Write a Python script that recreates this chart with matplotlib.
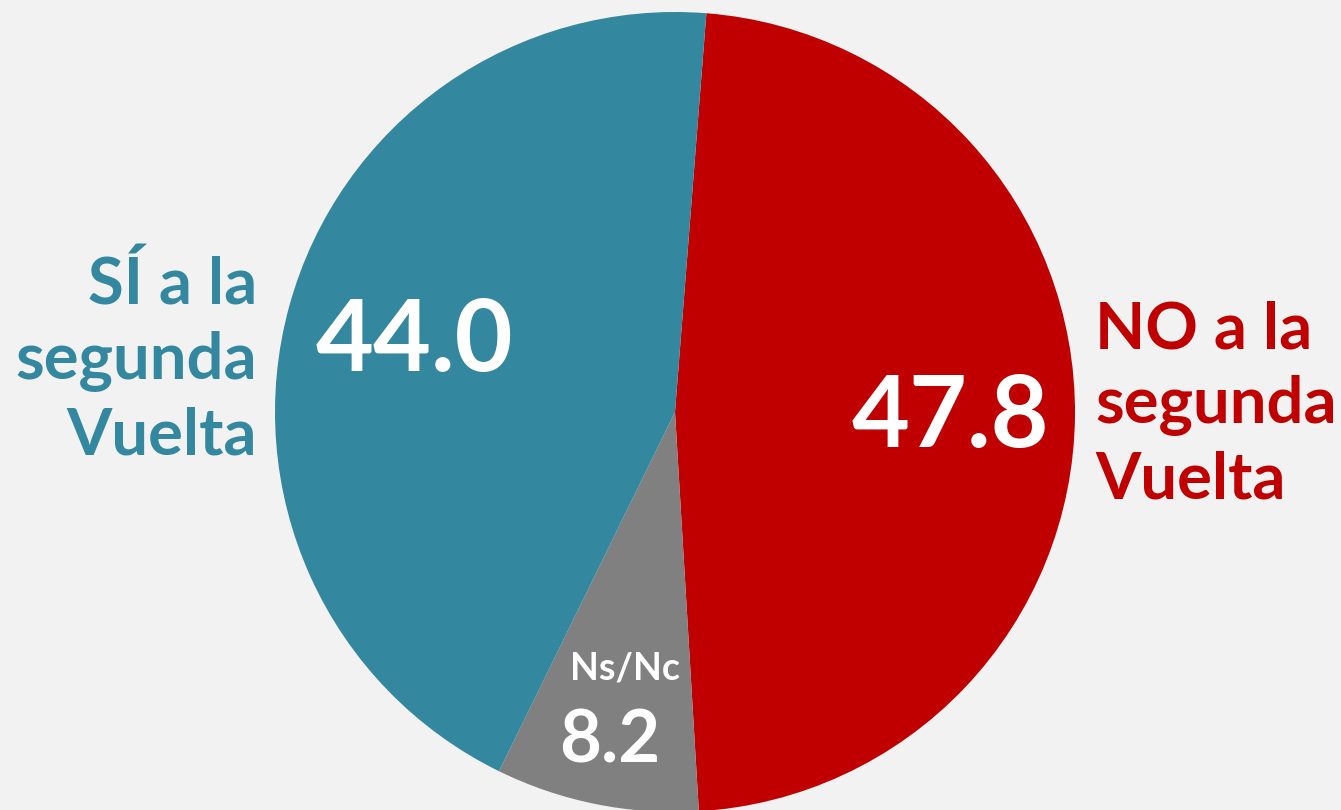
import matplotlib.pyplot as plt

# Datos
etiquetas = ['NO a la\nsegunda\nVuelta', 'Ns/Nc', 'SÍ a la\nsegunda\nVuelta']
valores = [47.8, 8.2, 44.0]
colores = ['#c00000', '#808080', '#33879e']

W, H = 1341, 810
fig = plt.figure(figsize=(W / 100, H / 100), dpi=100, facecolor='#f2f2f2')
ax = fig.add_axes([0, 0, 1, 1])
ax.set_facecolor('#f2f2f2')

cx, cy, r = 675, H - 412, 400
wedges, _ = ax.pie(valores, colors=colores, startangle=85.5, counterclock=False,
                   center=(cx, cy), radius=r, frame=True)
ax.set_xlim(0, W)
ax.set_ylim(0, H)
ax.set_aspect('equal')
ax.axis('off')

fuente = 'Lato'

# Valores dentro de las porciones
ax.text(414, H - 343, f'{valores[2]:.1f}', color='white', fontsize=72,
        fontweight='bold', family=fuente, ha='center', va='center')
ax.text(950, H - 418, f'{valores[0]:.1f}', color='white', fontsize=72,
        fontweight='bold', family=fuente, ha='center', va='center')
ax.text(610, H - 742, f'{valores[1]:.1f}', color='white', fontsize=52,
        fontweight='bold', family=fuente, ha='center', va='center')
ax.text(625, H - 668, etiquetas[1], color='white', fontsize=27,
        fontweight='bold', family=fuente, ha='center', va='center')

# Etiquetas laterales
ax.text(257, H - 360, etiquetas[2], color=colores[2], fontsize=47,
        family=fuente, fontweight='bold', ha='right', va='center',
        linespacing=1.32)
ax.text(1095, H - 405, etiquetas[0], color=colores[0], fontsize=47,
        family=fuente, fontweight='bold', ha='left', va='center',
        linespacing=1.32)

fig.savefig('out.png', dpi=100, facecolor=fig.get_facecolor())
